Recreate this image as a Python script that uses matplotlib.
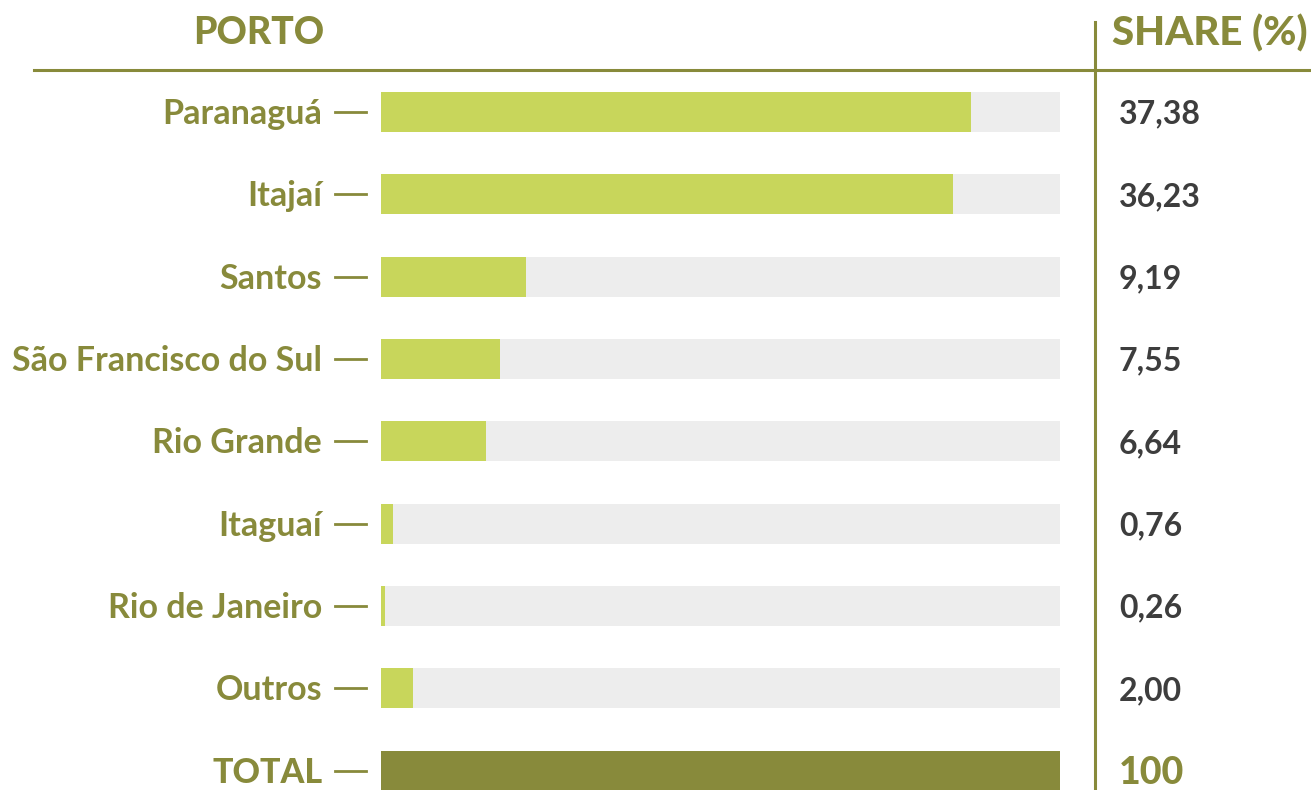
import matplotlib.pyplot as plt

# data
portos = ['Paranaguá', 'Itajaí', 'Santos', 'São Francisco do Sul', 'Rio Grande',
          'Itaguaí', 'Rio de Janeiro', 'Outros']
share = [37.38, 36.23, 9.19, 7.55, 6.64, 0.76, 0.26, 2.00]
share_txt = ['37,38', '36,23', '9,19', '7,55', '6,64', '0,76', '0,26', '2,00']
total_txt = '100'

OLIVE = '#888a3b'
GREEN = '#c8d65b'
GREY = '#ededed'
DARK = '#3d3d3d'

W, H = 1311, 790
fig = plt.figure(figsize=(W / 100, H / 100), dpi=100)

# bar area in pixels
x0, x1 = 381, 1060
top, bot = 71, 790
row0, step = 112, 82.35
ax = fig.add_axes([x0 / W, 1 - bot / H, (x1 - x0) / W, (bot - top) / H])
xmax = 43
ax.set_xlim(0, xmax)
ax.set_ylim((bot - row0) / step, -(row0 - top) / step)
ax.axis('off')

bh = 40 / step
n = len(portos)
for i in range(n):
    ax.barh(i, xmax, height=bh, color=GREY, zorder=1)
ax.barh(range(n), share, height=bh, color=GREEN, zorder=2)
ax.barh(n, xmax, height=bh, color=OLIVE, zorder=2)

fam = ['Lato', 'DejaVu Sans']

def ypix(i, off=0):
    return 1 - (row0 + step * i + off) / H

def dash(i):
    y = ypix(i)
    fig.add_artist(plt.Line2D([335 / W, 366 / W], [y, y], color=OLIVE, lw=2))

for i, p in enumerate(portos):
    fig.text(322 / W, ypix(i, 2), p, ha='right', va='center', color=OLIVE,
             family=fam, fontweight='bold', fontsize=24.5)
    dash(i)
    fig.text(1119 / W, ypix(i, 2), share_txt[i], ha='left', va='center', color=DARK,
             family=fam, fontweight='bold', fontsize=23)

fig.text(323 / W, ypix(n, 2), 'TOTAL', ha='right', va='center', color=OLIVE,
         family=fam, fontweight=900, fontsize=24.5)
dash(n)
fig.text(1119 / W, ypix(n, 2), total_txt, ha='left', va='center', color=OLIVE,
         family=fam, fontweight=900, fontsize=27)

# header
fig.text(259 / W, 1 - 33 / H, 'PORTO', ha='center', va='center', color=OLIVE,
         family=fam, fontweight=900, fontsize=27)
fig.text(1112 / W, 1 - 33 / H, 'SHARE (%)', ha='left', va='center', color=OLIVE,
         family=fam, fontweight=900, fontsize=29)

# rules
fig.add_artist(plt.Line2D([34 / W, 1], [1 - 70 / H, 1 - 70 / H], color=OLIVE, lw=2.2))
fig.add_artist(plt.Line2D([1095 / W, 1095 / W], [1 - 22 / H, 0], color=OLIVE, lw=2.2))

fig.savefig('out.png', dpi=100, facecolor='white')
